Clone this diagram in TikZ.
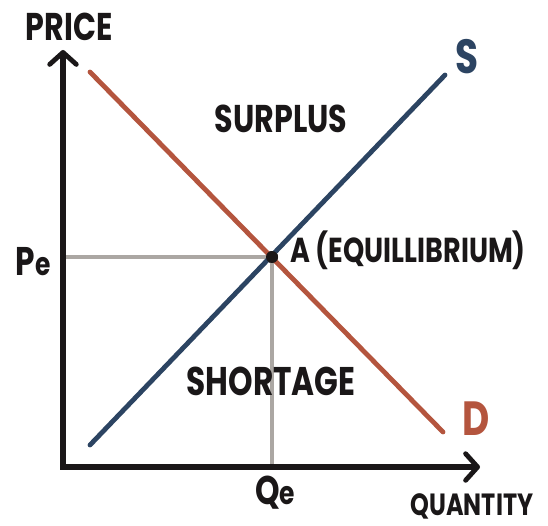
\documentclass[tikz,border=0pt]{standalone}
\usepackage{fontspec}
\newfontfamily\hand[FakeStretch=0.78]{Poppins}
\usetikzlibrary{arrows.meta}
\definecolor{dcol}{HTML}{B4553E}
\definecolor{scol}{HTML}{2C4462}
\definecolor{gcol}{HTML}{ABA7A3}
\definecolor{ink}{HTML}{1A1718}
\newcommand{\fsz}[1]{\fontsize{#1}{#1}\selectfont}
\begin{document}
\begin{tikzpicture}[x=0.75pt,y=-0.75pt,
  lbl/.style={font=\hand\bfseries, text=ink, inner sep=0pt},
  axis/.style={line width=4.5pt, draw=ink, line cap=round, line join=miter},
  curve/.style={line width=3.6pt, line cap=round},
  guide/.style={line width=3pt, draw=gcol}]
\useasboundingbox (0,0) rectangle (548,525);
\coordinate (ytop) at (63,50);
\coordinate (origin) at (63,467);
\coordinate (xend) at (480,467);
\coordinate (d1) at (90,72);
\coordinate (d2) at (443,432);
\coordinate (s1) at (90,445);
\coordinate (s2) at (445,75);
\coordinate (pe) at (63,257);
\coordinate (qe) at (272,467);
\node[circle, fill=ink, inner sep=0pt, minimum size=9pt] (A) at (272,257) {};
\draw[guide] (pe) -- (A.center) -- (qe);
\draw[curve, draw=dcol] (d1) -- (d2);
\draw[curve, draw=scol] (s1) -- (s2);
\node[circle, fill=ink, inner sep=0pt, minimum size=9pt] at (A) {};
\draw[axis, {Straight Barb[length=9pt,width=20pt,line width=3.6pt,round]}-{Straight Barb[length=9pt,width=20pt,line width=3.6pt,round]}] (ytop) -- (origin) -- (xend);
\node[lbl, font=\hand\bfseries\fsz{29}] (price) at (69,27) {PRICE};
\node[lbl, font=\hand\bfseries\fsz{23}] (quantity) at (472,506) {QUANTITY};
\node[lbl, font=\hand\bfseries\fsz{30}] (pelbl) at (33,262) {P{\fsz{24}e}};
\node[lbl, font=\hand\bfseries\fsz{30}] (qelbl) at (275,493) {Q{\fsz{24}e}};
\node[lbl, font=\hand\bfseries\fsz{36}, text=scol] (slbl) at (467,57) {S};
\node[lbl, font=\hand\bfseries\fsz{36}, text=dcol] (dlbl) at (476,419) {D};
\node[lbl, font=\hand\bfseries\fsz{29}] (surplus) at (281,119) {SURPLUS};
\node[lbl, font=\hand\bfseries\fsz{30}] (shortage) at (271,381) {SHORTAGE};
\node[lbl, font=\hand\bfseries\fsz{26}, anchor=west] (alb) at (290,250) {A (EQUILLIBRIUM)};
\end{tikzpicture}
\end{document}
